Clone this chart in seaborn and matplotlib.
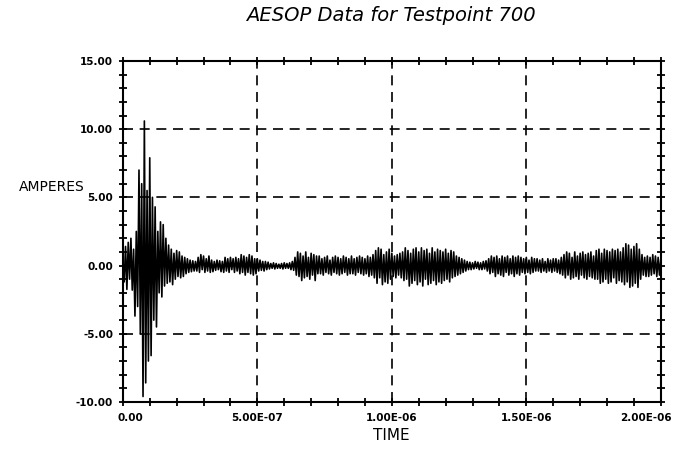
import numpy as np
import pandas as pd
import matplotlib
matplotlib.use("Agg")
import matplotlib.pyplot as plt
import matplotlib.transforms as mtransforms
from matplotlib.ticker import MultipleLocator, FixedLocator
import seaborn as sns

# ---- data (successive peaks of the current waveform) ----
sample_step = 5.0e-9  # seconds between successive peaks

burst_peaks = [0.5, -1.2, 1.4, -1.75, 1.7, -1.0, 2.0, -1.8, 1.2, -3.7,
               2.5, -3.0, 7.0, -5.0, 6.0, -9.6, 10.6, -8.6, 5.5, -7.0,
               7.9, -6.6, 5.0, -4.0, 4.3, -4.5, 2.5, -2.0, 3.2, -2.3,
               3.0, -1.5, 2.0, -1.3, 1.5, -1.2, 1.2, -1.4, 0.9, -1.0,
               1.1, -0.8, 1.0, -0.9, 0.7, -0.8, 0.6, -0.6, 0.5, -0.5,
               0.4, -0.45, 0.35, -0.4, 0.3]
ring_peaks_1 = [-0.4, 0.6, -0.5, 0.8, -0.3, 0.7, -0.5, 0.5, -0.4, 0.7, -0.5, 0.4,
                -0.45, 0.3, -0.35, 0.4, -0.3, 0.35, -0.45, 0.3,
                -0.5, 0.6, -0.4, 0.5, -0.5, 0.6, -0.3, 0.5, -0.5, 0.6, -0.4, 0.5,
                -0.6, 0.8, -0.5, 0.7, -0.7, 0.6, -0.5, 0.8, -0.6, 0.7, -0.7, 0.5, -0.6]
ring_peaks_2 = [0.5, -0.4, 0.4, -0.35, 0.3, -0.4, 0.3, -0.3, 0.25,
                -0.25, 0.15, -0.2, 0.2, -0.25, 0.15, -0.2, 0.1, -0.2, 0.15,
                -0.25, 0.2, -0.2, 0.15, -0.2, 0.2, -0.3, 0.3, -0.35]
ring_peaks_3 = [0.6, -0.7, 1.0, -0.8, 0.9, -1.1, 0.7, -0.9, 1.0, -0.8,
                0.6, -1.0, 0.9, -0.7, 0.8, -1.1, 0.7, -0.6,
                0.7, -0.6, 0.5, -0.7, 0.6, -0.5, 0.7, -0.6, 0.4, -0.7, 0.6, -0.5, 0.7, -0.6,
                0.6, -0.7, 0.5, -0.6, 0.7, -0.5, 0.6, -0.7, 0.5, -0.6, 0.7, -0.6, 0.5, -0.7,
                0.6, -0.5, 0.7, -0.6, 0.6, -0.7, 0.5, -0.6, 0.7, -0.8, 0.6, -0.7, 0.8, -0.9,
                1.1, -1.3, 1.3, -0.9, 1.2, -1.4, 0.8, -1.2, 1.0, -1.3, 1.2, -1.0]
ring_peaks_4 = [0.9, -0.8, 0.7, -0.9, 0.8, -0.7, 0.9, -0.9, 1.0, -1.1,
                1.3, -1.0, 1.1, -1.5, 0.9, -1.3, 1.2, -1.1, 1.3, -1.4,
                1.0, -1.2, 1.3, -1.5, 1.1, -1.0, 1.2, -1.4, 0.9, -1.3,
                1.3, -1.1, 1.0, -1.4, 1.2, -1.2, 1.1, -1.3, 1.0, -1.1,
                1.2, -1.0, 0.9, -1.2, 1.1, -0.9, 1.0, -0.8,
                0.7, -0.7, 0.6, -0.6, 0.5, -0.5, 0.4, -0.4,
                0.3, -0.3, 0.25, -0.3, 0.2, -0.25, 0.3, -0.2, 0.25, -0.3, 0.2, -0.3,
                0.3, -0.25, 0.35, -0.4]
ring_peaks_5 = [0.5, -0.6, 0.7, -0.5, 0.6, -0.8, 0.7, -0.6, 0.5, -0.7, 0.7, -0.8,
                0.6, -0.5, 0.7, -0.7, 0.5, -0.6, 0.7, -0.8, 0.6, -0.6, 0.7, -0.7,
                0.6, -0.5, 0.5, -0.6, 0.6, -0.5, 0.4, -0.6, 0.6, -0.5, 0.5, -0.4,
                0.5, -0.4, 0.4, -0.5, 0.5, -0.4, 0.3, -0.5, 0.5, -0.4, 0.4, -0.5,
                0.5, -0.4, 0.5, -0.5, 0.4, -0.6, 0.6, -0.7]
ring_peaks_6 = [0.8, -0.9, 1.0, -0.7, 0.9, -1.0, 0.6, -0.9, 1.0, -0.8, 0.7, -1.0,
                0.9, -0.7, 1.0, -0.9, 0.8, -1.0, 0.9, -0.8, 1.0, -0.9, 0.7, -1.0,
                1.1, -1.0, 1.2, -1.3, 0.9, -1.2, 1.2, -1.0, 1.1, -1.3,
                1.0, -1.2, 1.2, -0.9, 1.1, -1.3, 1.2, -1.1, 1.0, -1.2,
                1.3, -1.4, 1.6, -1.2, 1.5, -1.6, 1.2, -1.5, 1.4, -1.3, 1.6, -1.6, 1.2, -1.0,
                0.8, -0.7, 0.6, -0.8, 0.7, -0.8, 0.6, -0.7, 0.8, -0.6, 0.7, -0.8, 0.6, -0.7, 0.5]

y_ticks = [-10, -5, 0, 5, 10, 15]
x_ticks = [0.0, 5.0e-7, 1.0e-6, 1.5e-6, 2.0e-6]
x_tick_labels = ["0.00", "5.00E-07", "1.00E-06", "1.50E-06", "2.00E-06"]

amperes = (burst_peaks + ring_peaks_1 + ring_peaks_2 + ring_peaks_3
           + ring_peaks_4 + ring_peaks_5 + ring_peaks_6)
time = np.arange(len(amperes)) * sample_step
df = pd.DataFrame({"TIME": time, "AMPERES": amperes})

# ---- figure ----
sns.set_style("white")
plt.rcParams["font.family"] = ["DejaVu Sans"]
plt.rcParams["text.color"] = "black"
plt.rcParams["axes.labelcolor"] = "black"
plt.rcParams["xtick.color"] = "black"
plt.rcParams["ytick.color"] = "black"

fig = plt.figure(figsize=(6.75, 4.62), dpi=100)
ax = fig.add_axes([0.182, 0.130, 0.797, 0.738])

sns.lineplot(data=df, x="TIME", y="AMPERES", ax=ax, color="black",
             linewidth=1.2, estimator=None, sort=False)

ax.set_xlim(0, 2.0e-6)
ax.set_ylim(-10, 15)

ax.xaxis.set_major_locator(FixedLocator(x_ticks))
ax.xaxis.set_minor_locator(MultipleLocator(1.0e-7))
ax.yaxis.set_major_locator(FixedLocator(y_ticks))
ax.yaxis.set_minor_locator(MultipleLocator(1.0))
ax.set_xticklabels(x_tick_labels)
ax.set_yticklabels([f"{v:.2f}" for v in y_ticks])

ax.tick_params(which="both", direction="inout", top=True, right=True,
               bottom=True, left=True, length=6, width=1.3, color="black")
ax.tick_params(axis="y", which="major", labelsize=7.5, pad=4)
ax.tick_params(axis="x", which="major", labelsize=7.5, pad=5)
for lab in ax.get_xticklabels() + ax.get_yticklabels():
    lab.set_fontweight("bold")

# keep end labels inside the figure as in the reference
xl = ax.get_xticklabels()
xl[0].set_transform(xl[0].get_transform() + mtransforms.ScaledTranslation(8 / 100, 0, fig.dpi_scale_trans))
xl[-1].set_transform(xl[-1].get_transform() + mtransforms.ScaledTranslation(-15 / 100, 0, fig.dpi_scale_trans))

for s in ax.spines.values():
    s.set_color("black")
    s.set_linewidth(1.5)

ax.grid(True, which="major", color="black", linestyle=(0, (6, 4)), linewidth=1.2)
ax.set_axisbelow(True)

ax.set_xlabel("")
ax.set_ylabel("")
fig.text(0.579, 0.058, "TIME", fontsize=11, ha="center", va="center")
fig.text(0.077, 0.595, "AMPERES", fontsize=10, ha="center", va="center")
fig.text(0.579, 0.967, "AESOP Data for Testpoint 700", fontsize=14,
         style="oblique", ha="center", va="center")

fig.savefig("out.png", dpi=100)
